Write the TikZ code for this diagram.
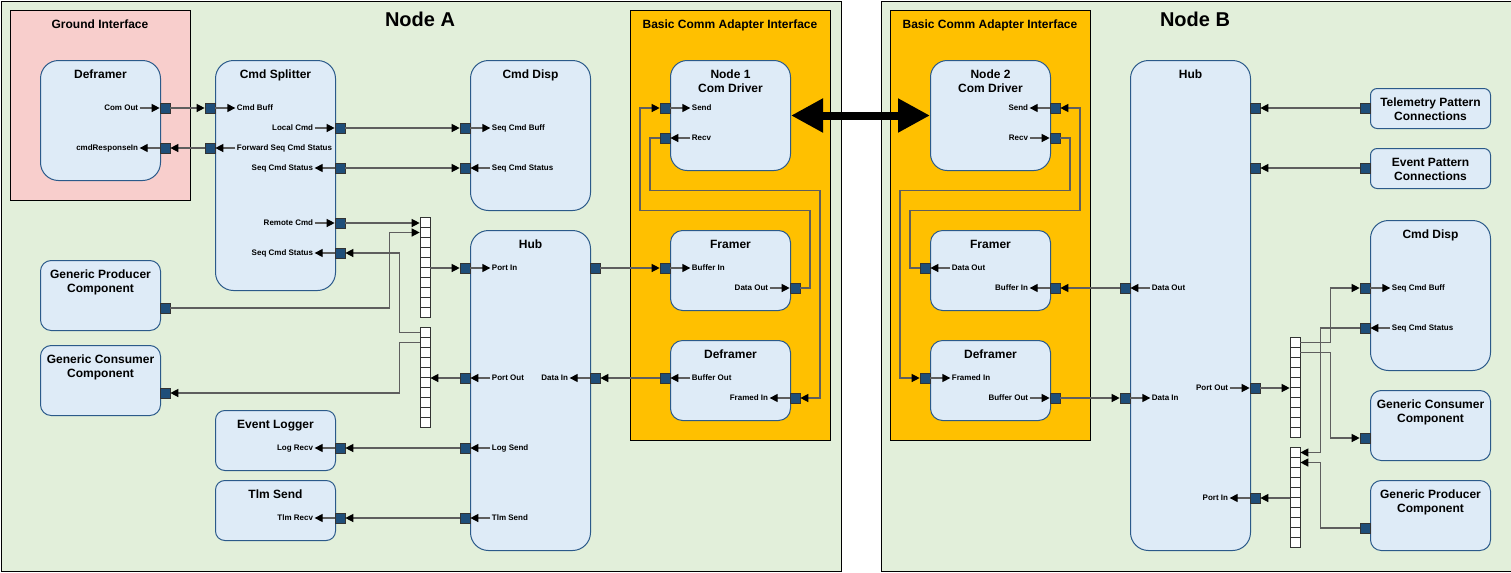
\documentclass[tikz,border=0pt]{standalone}
\usepackage{fontspec}
\setmainfont{Liberation Sans}
\usepackage{tikz}
\usetikzlibrary{arrows.meta}
\usetikzlibrary{calc}
\usetikzlibrary{positioning}
\definecolor{bggreen}{HTML}{E2EFDA}
\definecolor{gndred}{HTML}{F8CECC}
\definecolor{adaptorange}{HTML}{FFC000}
\definecolor{compfill}{HTML}{DEEBF7}
\definecolor{compline}{HTML}{2B5A8A}
\definecolor{portfill}{HTML}{1F4E79}
\definecolor{wiregray}{HTML}{5E5E5E}

\begin{document}
\begin{tikzpicture}[x=0.75pt,y=-0.75pt,
    zone/.style={draw=black,line width=0.75pt,anchor=north west,inner sep=0pt},
    comp/.style={draw=compline,fill=compfill,line width=0.75pt,rounded corners=13.5pt,anchor=north west,inner sep=0pt,minimum width=90pt},
    port/.style={draw=black!80,fill=portfill,line width=0.5pt,minimum size=7.5pt,inner sep=0pt},
    cell/.style={draw=black!80,fill=white,line width=0.5pt,minimum size=7.5pt,inner sep=0pt},
    ttl/.style={anchor=north,inner sep=0pt,align=center,font=\bfseries\fontsize{9}{10.5}\selectfont},
    plbl/.style={inner sep=1pt,text height=4.3pt,text depth=0pt,font=\bfseries\fontsize{6}{7}\selectfont},
    wire/.style={draw=wiregray,line width=1pt,-{Triangle[length=6pt,width=6pt,color=black]}},
    stub/.style={wire},
    bigarrow/.style={line width=6pt,{Triangle[length=24pt,width=24pt]}-{Triangle[length=24pt,width=24pt]}}]
  \useasboundingbox (0,0) rectangle (1511,572);

  % containers
  \node[zone,fill=bggreen,minimum width=630pt,minimum height=427.5pt] (nodeA) at (0.5,0.5) {};
  \node[zone,fill=bggreen,minimum width=472.5pt,minimum height=427.5pt] (nodeB) at (880.5,0.5) {};
  \node[anchor=north,inner sep=0pt,font=\bfseries\fontsize{15}{18}\selectfont] (nodeA-t) at (420,12) {Node A};
  \node[anchor=north,inner sep=0pt,font=\bfseries\fontsize{15}{18}\selectfont] (nodeB-t) at (1195,12) {Node B};
  \node[zone,fill=gndred,minimum width=135pt,minimum height=142.5pt] (gnd) at (10,10) {};
  \node[ttl] (gnd-t) at (100,19.5) {Ground Interface};
  \node[zone,fill=adaptorange,minimum width=150pt,minimum height=322.5pt] (adpA) at (630,10) {};
  \node[ttl] (adpA-t) at (730,19.5) {Basic Comm Adapter Interface};
  \node[zone,fill=adaptorange,minimum width=150pt,minimum height=322.5pt] (adpB) at (890,10) {};
  \node[ttl] (adpB-t) at (990,19.5) {Basic Comm Adapter Interface};

  % components, node A
  \node[comp,minimum height=90pt] (gdefr) at (40,60) {};
  \node[ttl] at ($(gdefr.north)+(0,9.5)$) {Deframer};
  \node[comp,minimum height=172.5pt] (spl) at (215,60) {};
  \node[ttl] at ($(spl.north)+(0,9.5)$) {Cmd Splitter};
  \node[comp,minimum height=112.5pt] (cdispA) at (470,60) {};
  \node[ttl] at ($(cdispA.north)+(0,9.5)$) {Cmd Disp};
  \node[comp,minimum height=240pt] (hubA) at (470,230) {};
  \node[ttl] at ($(hubA.north)+(0,9.5)$) {Hub};
  \node[comp,minimum height=52.5pt,rounded corners=8pt] (gprodA) at (40,260) {};
  \node[ttl] at ($(gprodA.north)+(0,9.5)$) {Generic Producer\\Component};
  \node[comp,minimum height=52.5pt,rounded corners=8pt] (gconsA) at (40,345) {};
  \node[ttl] at ($(gconsA.north)+(0,9.5)$) {Generic Consumer\\Component};
  \node[comp,minimum height=45pt,rounded corners=7pt] (evl) at (215,410) {};
  \node[ttl] at ($(evl.north)+(0,9.5)$) {Event Logger};
  \node[comp,minimum height=45pt,rounded corners=7pt] (tlms) at (215,480) {};
  \node[ttl] at ($(tlms.north)+(0,9.5)$) {Tlm Send};
  \node[comp,minimum height=82.5pt,rounded corners=12.5pt] (cda) at (670,60) {};
  \node[ttl] at ($(cda.north)+(0,9.5)$) {Node 1\\Com Driver};
  \node[comp,minimum height=60pt,rounded corners=9pt] (fra) at (670,230) {};
  \node[ttl] at ($(fra.north)+(0,9.5)$) {Framer};
  \node[comp,minimum height=60pt,rounded corners=9pt] (dfa) at (670,340) {};
  \node[ttl] at ($(dfa.north)+(0,9.5)$) {Deframer};

  % components, node B
  \node[comp,minimum height=82.5pt,rounded corners=12.5pt] (cdb) at (930,60) {};
  \node[ttl] at ($(cdb.north)+(0,9.5)$) {Node 2\\Com Driver};
  \node[comp,minimum height=60pt,rounded corners=9pt] (frb) at (930,230) {};
  \node[ttl] at ($(frb.north)+(0,9.5)$) {Framer};
  \node[comp,minimum height=60pt,rounded corners=9pt] (dfb) at (930,340) {};
  \node[ttl] at ($(dfb.north)+(0,9.5)$) {Deframer};
  \node[comp,minimum height=367.5pt] (hubB) at (1130,60) {};
  \node[ttl] at ($(hubB.north)+(0,9.5)$) {Hub};
  \node[comp,minimum height=30pt,rounded corners=5pt] (tpat) at (1370,88) {};
  \node[ttl] at ($(tpat.north)+(0,9.5)$) {Telemetry Pattern\\Connections};
  \node[comp,minimum height=30pt,rounded corners=5pt] (epat) at (1370,148) {};
  \node[ttl] at ($(epat.north)+(0,9.5)$) {Event Pattern\\Connections};
  \node[comp,minimum height=112.5pt] (cdispB) at (1370,220) {};
  \node[ttl] at ($(cdispB.north)+(0,9.5)$) {Cmd Disp};
  \node[comp,minimum height=52.5pt,rounded corners=8pt] (gconsB) at (1370,390) {};
  \node[ttl] at ($(gconsB.north)+(0,9.5)$) {Generic Consumer\\Component};
  \node[comp,minimum height=52.5pt,rounded corners=8pt] (gprodB) at (1370,480) {};
  \node[ttl] at ($(gprodB.north)+(0,9.5)$) {Generic Producer\\Component};

  % multiplexer stacks
  \foreach \i in {0,...,9} {
    \node[cell] (muxa1-\i) at (425,222.5+10*\i) {};
    \node[cell] (muxa2-\i) at (425,332.5+10*\i) {};
    \node[cell] (muxb1-\i) at (1295,342.5+10*\i) {};
    \node[cell] (muxb2-\i) at (1295,452.5+10*\i) {};
  }

  % ports and their labels, node A
  \node[port] (gdefr-out) at (165,108) {};
  \node[plbl,left=15pt of gdefr-out] (gdefr-outl) {Com Out};
  \draw[stub] (gdefr-outl) -- (gdefr-out);
  \node[port] (gdefr-rsp) at (165,148) {};
  \node[plbl,left=15pt of gdefr-rsp] (gdefr-rspl) {cmdResponseIn};
  \draw[stub] (gdefr-rsp) -- (gdefr-rspl);

  \node[port] (spl-buff) at (210,108) {};
  \node[plbl,right=15pt of spl-buff] (spl-buffl) {Cmd Buff};
  \draw[stub] (spl-buff) -- (spl-buffl);
  \node[port] (spl-fwd) at (210,148) {};
  \node[plbl,right=15pt of spl-fwd] (spl-fwdl) {Forward Seq Cmd Status};
  \draw[stub] (spl-fwdl) -- (spl-fwd);
  \node[port] (spl-lcmd) at (340,128) {};
  \node[plbl,left=15pt of spl-lcmd] (spl-lcmdl) {Local Cmd};
  \draw[stub] (spl-lcmdl) -- (spl-lcmd);
  \node[port] (spl-scs1) at (340,168) {};
  \node[plbl,left=15pt of spl-scs1] (spl-scs1l) {Seq Cmd Status};
  \draw[stub] (spl-scs1) -- (spl-scs1l);
  \node[port] (spl-rcmd) at (340,223) {};
  \node[plbl,left=15pt of spl-rcmd] (spl-rcmdl) {Remote Cmd};
  \draw[stub] (spl-rcmdl) -- (spl-rcmd);
  \node[port] (spl-scs2) at (340,253) {};
  \node[plbl,left=15pt of spl-scs2] (spl-scs2l) {Seq Cmd Status};
  \draw[stub] (spl-scs2) -- (spl-scs2l);

  \node[port] (cdispA-buff) at (465,128) {};
  \node[plbl,right=15pt of cdispA-buff] (cdispA-buffl) {Seq Cmd Buff};
  \draw[stub] (cdispA-buff) -- (cdispA-buffl);
  \node[port] (cdispA-stat) at (465,168) {};
  \node[plbl,right=15pt of cdispA-stat] (cdispA-statl) {Seq Cmd Status};
  \draw[stub] (cdispA-statl) -- (cdispA-stat);

  \node[port] (gprodA-out) at (165,308) {};
  \node[port] (gconsA-in) at (165,393) {};

  \node[port] (evl-in) at (340,448) {};
  \node[plbl,left=15pt of evl-in] (evl-inl) {Log Recv};
  \draw[stub] (evl-in) -- (evl-inl);
  \node[port] (tlms-in) at (340,518) {};
  \node[plbl,left=15pt of tlms-in] (tlms-inl) {Tlm Recv};
  \draw[stub] (tlms-in) -- (tlms-inl);

  \node[port] (hubA-pin) at (465,268) {};
  \node[plbl,right=15pt of hubA-pin] (hubA-pinl) {Port In};
  \draw[stub] (hubA-pin) -- (hubA-pinl);
  \node[port] (hubA-pout) at (465,378) {};
  \node[plbl,right=15pt of hubA-pout] (hubA-poutl) {Port Out};
  \draw[stub] (hubA-poutl) -- (hubA-pout);
  \node[port] (hubA-log) at (465,448) {};
  \node[plbl,right=15pt of hubA-log] (hubA-logl) {Log Send};
  \draw[stub] (hubA-logl) -- (hubA-log);
  \node[port] (hubA-tlm) at (465,518) {};
  \node[plbl,right=15pt of hubA-tlm] (hubA-tlml) {Tlm Send};
  \draw[stub] (hubA-tlml) -- (hubA-tlm);
  \node[port] (hubA-bout) at (595,268) {};
  \node[port] (hubA-din) at (595,378) {};
  \node[plbl,left=15pt of hubA-din] (hubA-dinl) {Data In};
  \draw[stub] (hubA-din) -- (hubA-dinl);

  \node[port] (cda-send) at (665,108) {};
  \node[plbl,right=15pt of cda-send] (cda-sendl) {Send};
  \draw[stub] (cda-send) -- (cda-sendl);
  \node[port] (cda-recv) at (665,138) {};
  \node[plbl,right=15pt of cda-recv] (cda-recvl) {Recv};
  \draw[stub] (cda-recvl) -- (cda-recv);
  \node[port] (fra-bin) at (665,268) {};
  \node[plbl,right=15pt of fra-bin] (fra-binl) {Buffer In};
  \draw[stub] (fra-bin) -- (fra-binl);
  \node[port] (fra-dout) at (795,288) {};
  \node[plbl,left=15pt of fra-dout] (fra-doutl) {Data Out};
  \draw[stub] (fra-doutl) -- (fra-dout);
  \node[port] (dfa-bout) at (665,378) {};
  \node[plbl,right=15pt of dfa-bout] (dfa-boutl) {Buffer Out};
  \draw[stub] (dfa-boutl) -- (dfa-bout);
  \node[port] (dfa-fin) at (795,398) {};
  \node[plbl,left=15pt of dfa-fin] (dfa-finl) {Framed In};
  \draw[stub] (dfa-fin) -- (dfa-finl);

  % ports and their labels, node B
  \node[port] (cdb-send) at (1055,108) {};
  \node[plbl,left=15pt of cdb-send] (cdb-sendl) {Send};
  \draw[stub] (cdb-send) -- (cdb-sendl);
  \node[port] (cdb-recv) at (1055,138) {};
  \node[plbl,left=15pt of cdb-recv] (cdb-recvl) {Recv};
  \draw[stub] (cdb-recvl) -- (cdb-recv);
  \node[port] (frb-dout) at (925,268) {};
  \node[plbl,right=15pt of frb-dout] (frb-doutl) {Data Out};
  \draw[stub] (frb-doutl) -- (frb-dout);
  \node[port] (frb-bin) at (1055,288) {};
  \node[plbl,left=15pt of frb-bin] (frb-binl) {Buffer In};
  \draw[stub] (frb-bin) -- (frb-binl);
  \node[port] (dfb-fin) at (925,378) {};
  \node[plbl,right=15pt of dfb-fin] (dfb-finl) {Framed In};
  \draw[stub] (dfb-fin) -- (dfb-finl);
  \node[port] (dfb-bout) at (1055,398) {};
  \node[plbl,left=15pt of dfb-bout] (dfb-boutl) {Buffer Out};
  \draw[stub] (dfb-boutl) -- (dfb-bout);

  \node[port] (hubB-dout) at (1125,288) {};
  \node[plbl,right=15pt of hubB-dout] (hubB-doutl) {Data Out};
  \draw[stub] (hubB-doutl) -- (hubB-dout);
  \node[port] (hubB-din) at (1125,398) {};
  \node[plbl,right=15pt of hubB-din] (hubB-dinl) {Data In};
  \draw[stub] (hubB-din) -- (hubB-dinl);
  \node[port] (hubB-tlm) at (1255,108) {};
  \node[port] (hubB-evt) at (1255,168) {};
  \node[port] (hubB-pout) at (1255,388) {};
  \node[plbl,left=15pt of hubB-pout] (hubB-poutl) {Port Out};
  \draw[stub] (hubB-poutl) -- (hubB-pout);
  \node[port] (hubB-pin) at (1255,498) {};
  \node[plbl,left=15pt of hubB-pin] (hubB-pinl) {Port In};
  \draw[stub] (hubB-pin) -- (hubB-pinl);

  \node[port] (tpat-out) at (1365,108) {};
  \node[port] (epat-out) at (1365,168) {};
  \node[port] (cdispB-buff) at (1365,288) {};
  \node[plbl,right=15pt of cdispB-buff] (cdispB-buffl) {Seq Cmd Buff};
  \draw[stub] (cdispB-buff) -- (cdispB-buffl);
  \node[port] (cdispB-stat) at (1365,328) {};
  \node[plbl,right=15pt of cdispB-stat] (cdispB-statl) {Seq Cmd Status};
  \draw[stub] (cdispB-statl) -- (cdispB-stat);
  \node[port] (gconsB-in) at (1365,438) {};
  \node[port] (gprodB-out) at (1365,528) {};

  % connections, node A
  \draw[wire] (gdefr-out) -- (spl-buff);
  \draw[wire] (spl-fwd) -- (gdefr-rsp);
  \draw[wire] (spl-lcmd) -- (cdispA-buff);
  \draw[wire] (spl-scs1) -- (cdispA-stat);
  \draw[wire] (spl-rcmd) -- (spl-rcmd -| muxa1-0.west);
  \draw[wire] (gprodA-out) -| ($(muxa1-1.west)+(-30,0)$) -- (muxa1-1.west);
  \draw[wire] (muxa2-0.west) -- ++(-20,0) |- (spl-scs2);
  \draw[wire] (muxa2-1.west) -- ++(-20,0) |- (gconsA-in);
  \draw[wire] (muxa1-4.east |- hubA-pin) -- (hubA-pin);
  \draw[wire] (hubA-pout) -- (hubA-pout -| muxa2-4.east);
  \draw[wire] (hubA-log) -- (evl-in);
  \draw[wire] (hubA-tlm) -- (tlms-in);
  \draw[wire] (hubA-bout) -- (fra-bin);
  \draw[wire] (dfa-bout) -- (hubA-din);
  \draw[wire] (fra-dout) -- ++(15,0) |- (640,210.5) |- (cda-send);
  \draw[wire] (cda-recv) -- ++(-15,0) |- (820,190.5) |- (dfa-fin);

  % link between the nodes
  \draw[bigarrow] (cda.east) -- (cdb.west);

  % connections, node B
  \draw[wire] (frb-dout) -- ++(-15,0) |- (1080,210.5) |- (cdb-send);
  \draw[wire] (cdb-recv) -- ++(15,0) |- (900,190.5) |- (dfb-fin);
  \draw[wire] (hubB-dout) -- (frb-bin);
  \draw[wire] (dfb-bout) -- (hubB-din);
  \draw[wire] (tpat-out) -- (hubB-tlm);
  \draw[wire] (epat-out) -- (hubB-evt);
  \draw[wire] (hubB-pout) -- (hubB-pout -| muxb1-0.west);
  \draw[wire] (muxb1-0.east) -- ++(30,0) |- (cdispB-buff);
  \draw[wire] (muxb1-1.east) -- ++(30,0) |- (gconsB-in);
  \draw[wire] (cdispB-stat) -| ($(muxb2-0.east)+(20,0)$) -- (muxb2-0.east);
  \draw[wire] (gprodB-out) -| ($(muxb2-1.east)+(20,0)$) -- (muxb2-1.east);
  \draw[wire] (muxb2-4.west |- hubB-pin) -- (hubB-pin);
\end{tikzpicture}
\end{document}
